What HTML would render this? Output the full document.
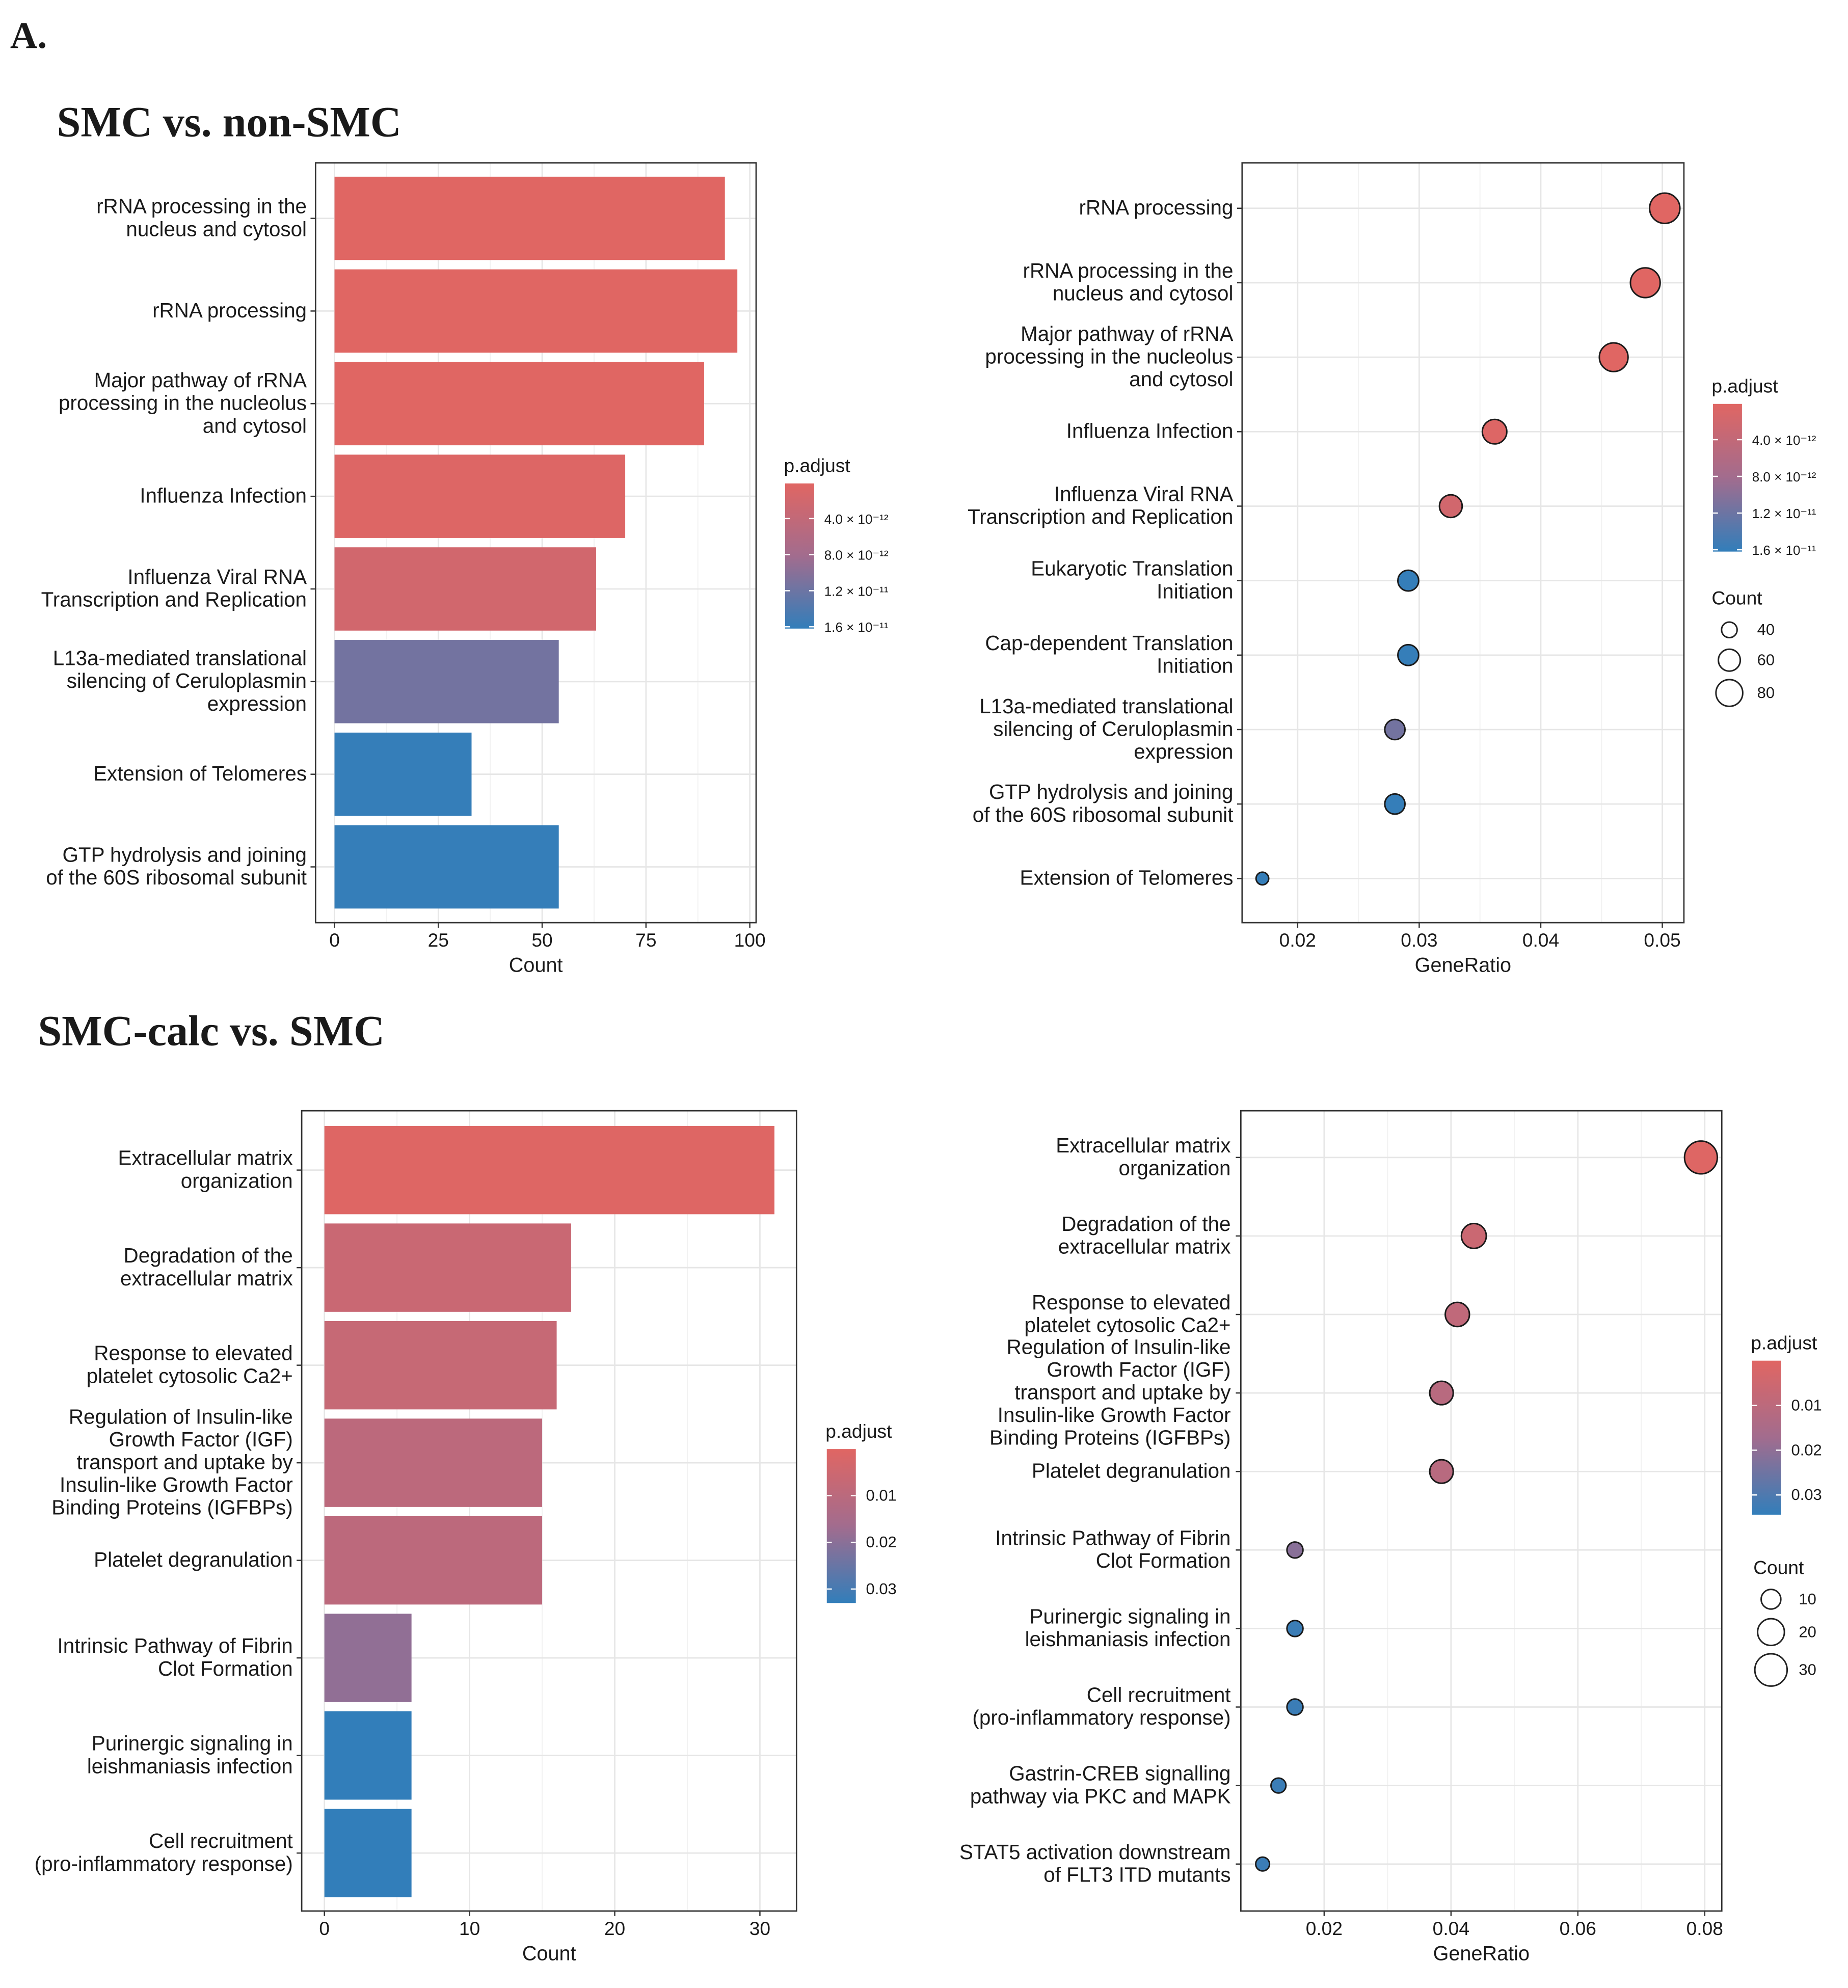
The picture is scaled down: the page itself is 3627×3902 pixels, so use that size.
<!DOCTYPE html>
<html><head><meta charset="utf-8"><style>
html,body{margin:0;padding:0;background:#fff}
svg{display:block}
text{font-family:"Liberation Sans",Arial,sans-serif;fill:#1a1a1a}
</style></head><body>
<svg id="fig" width="3627" height="3902" viewBox="0 0 1464 1575" xmlns="http://www.w3.org/2000/svg">
<defs>
<linearGradient id="pgrad" x1="0" y1="0" x2="0" y2="1"><stop offset="0" stop-color="#e06663"/><stop offset="0.5" stop-color="#a26c8e"/><stop offset="1" stop-color="#327eba"/></linearGradient>
</defs>
<text x="8" y="38" style="font-family:'Liberation Serif',serif;font-weight:bold;font-size:30px">A.</text>
<text x="45" y="108" style="font-family:'Liberation Serif',serif;font-weight:bold;font-size:34px">SMC vs. non-SMC</text>
<text x="30" y="828" style="font-family:'Liberation Serif',serif;font-weight:bold;font-size:34px">SMC-calc vs. SMC</text>
</svg>
<script>
// ---- data ----
const P1_cats=["rRNA processing in the\nnucleus and cytosol","rRNA processing","Major pathway of rRNA\nprocessing in the nucleolus\nand cytosol","Influenza Infection","Influenza Viral RNA\nTranscription and Replication","L13a-mediated translational\nsilencing of Ceruloplasmin\nexpression","Extension of Telomeres","GTP hydrolysis and joining\nof the 60S ribosomal subunit"];
const P1_counts=[94,97,89,70,63,54,33,54];
const P1_padj=[1e-13,1e-13,1e-13,5e-13,2e-12,1.15e-11,1.6e-11,1.6e-11];
const P1_ticks=[0,25,50,75,100];

const P2_cats=["rRNA processing","rRNA processing in the\nnucleus and cytosol","Major pathway of rRNA\nprocessing in the nucleolus\nand cytosol","Influenza Infection","Influenza Viral RNA\nTranscription and Replication","Eukaryotic Translation\nInitiation","Cap-dependent Translation\nInitiation","L13a-mediated translational\nsilencing of Ceruloplasmin\nexpression","GTP hydrolysis and joining\nof the 60S ribosomal subunit","Extension of Telomeres"];
const P2_ratio=[0.0502,0.0486,0.046,0.0362,0.0326,0.0291,0.0291,0.028,0.028,0.0171];
const P2_counts=[97,94,89,70,63,56,56,54,54,33];
const P2_padj=[1e-13,1e-13,1e-13,5e-13,2e-12,1.6e-11,1.6e-11,1.15e-11,1.6e-11,1.6e-11];
const P2_ticks=[0.02,0.03,0.04,0.05];

const P3_cats=["Extracellular matrix\norganization","Degradation of the\nextracellular matrix","Response to elevated\nplatelet cytosolic Ca2+","Regulation of Insulin-like\nGrowth Factor (IGF)\ntransport and uptake by\nInsulin-like Growth Factor\nBinding Proteins (IGFBPs)","Platelet degranulation","Intrinsic Pathway of Fibrin\nClot Formation","Purinergic signaling in\nleishmaniasis infection","Cell recruitment\n(pro-inflammatory response)"];
const P3_counts=[31,17,16,15,15,6,6,6];
const P3_padj=[0.0005,0.006,0.007,0.0095,0.0095,0.019,0.033,0.033];
const P3_ticks=[0,10,20,30];

const P4_cats=["Extracellular matrix\norganization","Degradation of the\nextracellular matrix","Response to elevated\nplatelet cytosolic Ca2+","Regulation of Insulin-like\nGrowth Factor (IGF)\ntransport and uptake by\nInsulin-like Growth Factor\nBinding Proteins (IGFBPs)","Platelet degranulation","Intrinsic Pathway of Fibrin\nClot Formation","Purinergic signaling in\nleishmaniasis infection","Cell recruitment\n(pro-inflammatory response)","Gastrin-CREB signalling\npathway via PKC and MAPK","STAT5 activation downstream\nof FLT3 ITD mutants"];
const P4_ratio=[0.0794,0.0436,0.041,0.0385,0.0385,0.0154,0.0154,0.0154,0.0128,0.0103];
const P4_counts=[31,17,16,15,15,6,6,6,5,4];
const P4_padj=[0.0005,0.006,0.009,0.011,0.011,0.021,0.033,0.033,0.033,0.033];
const P4_ticks=[0.02,0.04,0.06,0.08];

const SVGNS="http://www.w3.org/2000/svg";
const svg=document.getElementById('fig');
function mk(tag,attrs,parent){const e=document.createElementNS(SVGNS,tag);for(const k in attrs)e.setAttribute(k,attrs[k]);(parent||svg).appendChild(e);return e;}
function hex(c){return [parseInt(c.slice(1,3),16),parseInt(c.slice(3,5),16),parseInt(c.slice(5,7),16)];}
const LO=hex("#e06663"),MID=hex("#a26c8e"),HI=hex("#327eba");
function pcol(p,pmin,pmax){let t=(p-pmin)/(pmax-pmin);t=Math.max(0,Math.min(1,t));
  let a,b2,u;if(t<0.5){a=LO;b2=MID;u=t*2;}else{a=MID;b2=HI;u=(t-0.5)*2;}
  const c=a.map((v,i)=>Math.round(v+(b2[i]-v)*u));return `rgb(${c[0]},${c[1]},${c[2]})`;}
const FS=16.3;
function label(lines,x,y,size,name){
  const ls=lines.split("\n");const lh=18;const y0=y-(ls.length-1)*lh/2+5;
  const t=mk('text',{x:x,y:y0,'text-anchor':'end','font-size':size});
  
  
  ls.forEach((l,i)=>{const s=mk('tspan',{x:x,y:y0+i*lh},t);s.textContent=l;});
}
function panelFrame(b,ticks,sx,nrows,rowY,xtitle,name){
  const g=mk('g',{});
  
  
  mk('rect',{x:b.x0,y:b.y0,width:b.x1-b.x0,height:b.y1-b.y0,fill:'#fff'},g);
  for(let i=0;i<ticks.length-1;i++){const m=(ticks[i]+ticks[i+1])/2;mk('line',{x1:sx(m),x2:sx(m),y1:b.y0,y2:b.y1,stroke:'#f2f2f2','stroke-width':0.8},g);}
  ticks.forEach(v=>{mk('line',{x1:sx(v),x2:sx(v),y1:b.y0,y2:b.y1,stroke:'#e6e6e6','stroke-width':1.1},g);});
  for(let i=0;i<nrows;i++){mk('line',{x1:b.x0,x2:b.x1,y1:rowY(i),y2:rowY(i),stroke:'#e6e6e6','stroke-width':1.1},g);}
  return g;
}
function axes(g,b,ticks,sx,nrows,rowY,xtitle,xtName,fmt){
  mk('rect',{x:b.x0,y:b.y0,width:b.x1-b.x0,height:b.y1-b.y0,fill:'none',stroke:'#333','stroke-width':1.1},g);
  for(let i=0;i<nrows;i++) mk('line',{x1:b.x0-4,x2:b.x0,y1:rowY(i),y2:rowY(i),stroke:'#333','stroke-width':1},g);
  ticks.forEach(v=>{
    mk('line',{x1:sx(v),x2:sx(v),y1:b.y1,y2:b.y1+4,stroke:'#333','stroke-width':1},g);
    const t=mk('text',{x:sx(v),y:b.y1+19,'text-anchor':'middle','font-size':15,fill:'#333'},g);
    
    
    t.textContent=fmt(v);
  });
  const t=mk('text',{x:(b.x0+b.x1)/2,y:b.y1+39,'text-anchor':'middle','font-size':16},g);
  
  
  t.textContent=xtitle;
}
function colorbar(x,y0,y1,title,tickVals,tickLabs,pmin,pmax,name,small){
  const g=mk('g',{});
  
  
  const tt=mk('text',{x:x-1,y:y0-9,'font-size':15},g);tt.textContent=title;
  mk('rect',{x:x,y:y0,width:23,height:y1-y0,fill:'url(#pgrad)'},g);
  tickVals.forEach((v,i)=>{const yy=y0+(v-pmin)/(pmax-pmin)*(y1-y0);
    mk('line',{x1:x,x2:x+4,y1:yy,y2:yy,stroke:'#fff','stroke-width':1},g);
    mk('line',{x1:x+19,x2:x+23,y1:yy,y2:yy,stroke:'#fff','stroke-width':1},g);
    const t=mk('text',{x:x+31,y:yy+4,'font-size':small?10.5:12.5},g);t.textContent=tickLabs[i];});
}
function sizeLegend(x,ys,vals,rf,name){
  const g=mk('g',{});
  
  
  const tt=mk('text',{x:x-14,y:ys[0]-20,'font-size':15},g);tt.textContent='Count';
  vals.forEach((v,i)=>{mk('circle',{cx:x,cy:ys[i],r:rf(v),fill:'none',stroke:'#222','stroke-width':1.2},g);
    const t=mk('text',{x:x+22,y:ys[i]+4,'font-size':12.5},g);t.textContent=v;});
}

// ---- Panel 1: bar ----
(function(){
  const b={x0:250,x1:599,y0:129,y1:731};
  const sx=v=>265+v*(594-265)/100;
  const rowY=i=>173+i*73.4;
  const g=panelFrame(b,P1_ticks,sx,P1_cats.length,rowY,'Count','panel-smc-bar');
  P1_cats.forEach((c,i)=>{
    const r=mk('rect',{x:sx(0),y:rowY(i)-33,width:sx(P1_counts[i])-sx(0),height:66,fill:pcol(P1_padj[i],1e-13,1.62e-11)},g);
    
    
    label(c,243,rowY(i),FS,'category-label');
  });
  axes(g,b,P1_ticks,sx,P1_cats.length,rowY,'Count','x-axis-title',v=>v);
  colorbar(622,383,498,'p.adjust',[4e-12,8e-12,1.2e-11,1.6e-11],['4.0 × 10⁻¹²','8.0 × 10⁻¹²','1.2 × 10⁻¹¹','1.6 × 10⁻¹¹'],1e-13,1.62e-11,'p-adjust-legend',true);
})();

// ---- Panel 2: dot ----
(function(){
  const b={x0:984,x1:1334,y0:129,y1:731};
  const sx=v=>1028+(v-0.02)*9630;
  const rowY=i=>165+i*59;
  const rf=c=>Math.sqrt(Math.max(4,-36.3+1.86*c));
  const g=panelFrame(b,P2_ticks,sx,P2_cats.length,rowY,'GeneRatio','panel-smc-dot');
  P2_cats.forEach((c,i)=>{
    const d=mk('circle',{cx:sx(P2_ratio[i]),cy:rowY(i),r:rf(P2_counts[i]),fill:pcol(P2_padj[i],1e-13,1.62e-11),stroke:'#1a1a1a','stroke-width':1.2},g);
    
    
    label(c,977,rowY(i),FS,'category-label');
  });
  axes(g,b,P2_ticks,sx,P2_cats.length,rowY,'GeneRatio','x-axis-title',v=>v.toFixed(2));
  colorbar(1357,320,437,'p.adjust',[4e-12,8e-12,1.2e-11,1.6e-11],['4.0 × 10⁻¹²','8.0 × 10⁻¹²','1.2 × 10⁻¹¹','1.6 × 10⁻¹¹'],1e-13,1.62e-11,'p-adjust-legend',true);
  sizeLegend(1370,[499,523,549],[40,60,80],rf,'count-legend');
})();

// ---- Panel 3: bar ----
(function(){
  const b={x0:239,x1:631,y0:880,y1:1514};
  const sx=v=>257+v*11.5;
  const rowY=i=>927+i*77.3;
  const g=panelFrame(b,P3_ticks,sx,P3_cats.length,rowY,'Count','panel-calc-bar');
  P3_cats.forEach((c,i)=>{
    const r=mk('rect',{x:sx(0),y:rowY(i)-35,width:sx(P3_counts[i])-sx(0),height:70,fill:pcol(P3_padj[i],0,0.033)},g);
    
    
    label(c,232,rowY(i),FS,'category-label');
  });
  axes(g,b,P3_ticks,sx,P3_cats.length,rowY,'Count','x-axis-title',v=>v);
  colorbar(655,1148,1270,'p.adjust',[0.01,0.02,0.03],['0.01','0.02','0.03'],0,0.033,'p-adjust-legend',false);
})();

// ---- Panel 4: dot ----
(function(){
  const b={x0:983,x1:1364,y0:880,y1:1514};
  const sx=v=>1049+(v-0.02)*5025;
  const rowY=i=>917+i*62.2;
  const rf=c=>Math.sqrt(9.4+5.15*c);
  const g=panelFrame(b,P4_ticks,sx,P4_cats.length,rowY,'GeneRatio','panel-calc-dot');
  P4_cats.forEach((c,i)=>{
    const d=mk('circle',{cx:sx(P4_ratio[i]),cy:rowY(i),r:rf(P4_counts[i]),fill:pcol(P4_padj[i],0,0.0344),stroke:'#1a1a1a','stroke-width':1.2},g);
    
    
    label(c,975,rowY(i),FS,'category-label');
  });
  axes(g,b,P4_ticks,sx,P4_cats.length,rowY,'GeneRatio','x-axis-title',v=>v.toFixed(2));
  colorbar(1388,1078,1200,'p.adjust',[0.01,0.02,0.03],['0.01','0.02','0.03'],0,0.0344,'p-adjust-legend',false);
  sizeLegend(1403,[1267,1293,1323],[10,20,30],rf,'count-legend');
})();
</script>
</body></html>
